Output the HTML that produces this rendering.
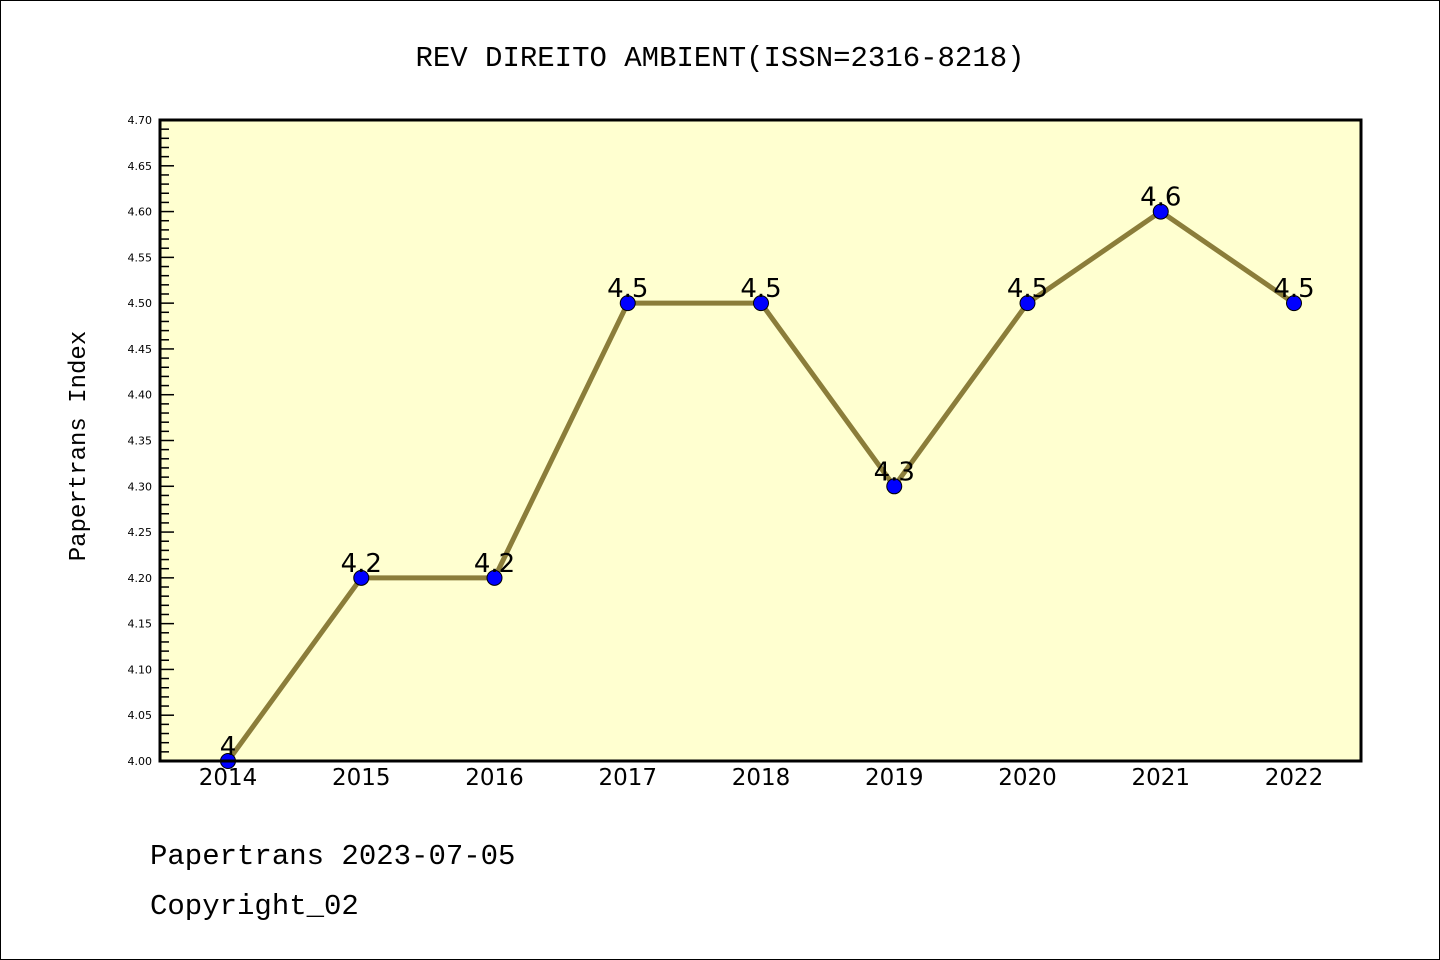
<!DOCTYPE html>
<html><head><meta charset="utf-8"><style>
body{margin:0;background:#fff}
svg{display:block;font-family:"Liberation Mono","DejaVu Sans Mono",monospace}
</style></head><body>
<svg width="1440" height="960">
<rect x="0.5" y="0.5" width="1439" height="959" fill="#fff" stroke="#000"/>
<text x="720" y="66" text-anchor="middle" font-size="29">REV DIREITO AMBIENT(ISSN=2316-8218)</text>
<rect x="160" y="120" width="1201" height="641" fill="#ffffd0"/>
<g id="yaxis"></g>
<g id="xaxis"></g>
<g id="series"></g>
<rect x="160" y="120" width="1201" height="641" fill="none" stroke="#000" stroke-width="3"/>
<text transform="translate(85,446) rotate(-90)" text-anchor="middle" font-size="24">Papertrans Index</text>
<text x="150" y="864" font-size="29">Papertrans 2023-07-05</text>
<text x="150" y="914" font-size="29">Copyright_02</text>
</svg>
<script>
const years=["2014","2015","2016","2017","2018","2019","2020","2021","2022"];
const values=[4.0,4.2,4.2,4.5,4.5,4.3,4.5,4.6,4.5];
const labels=["4","4.2","4.2","4.5","4.5","4.3","4.5","4.6","4.5"];
const yTicks=["4.00","4.05","4.10","4.15","4.20","4.25","4.30","4.35","4.40","4.45","4.50","4.55","4.60","4.65","4.70"];
const NS="http://www.w3.org/2000/svg";
const yMin=4.0,yMax=4.7,plotTop=120,plotBot=761;
const yS=v=>plotBot-(v-yMin)/(yMax-yMin)*(plotBot-plotTop);
const xS=i=>228+i*(1294-228)/(years.length-1);
function mk(t,a,p){const e=document.createElementNS(NS,t);for(const k in a)e.setAttribute(k,a[k]);p.appendChild(e);return e;}
const ya=document.getElementById('yaxis');
for(let k=0;k<=70;k++){const v=yMin+k*0.01;const major=k%5===0;
 const l=mk('line',{x1:160,x2:160+(major?14:9),y1:yS(v),y2:yS(v),stroke:'#000','stroke-width':1.5},ya);
 
 }
yTicks.forEach(t=>{const e=mk('text',{x:152,y:yS(parseFloat(t))+4,'text-anchor':'end','font-size':11,'font-family':'DejaVu Sans,sans-serif'},ya);e.textContent=t;
 
 });
const xa=document.getElementById('xaxis');
years.forEach((yr,i)=>{const e=mk('text',{x:xS(i),y:785,'text-anchor':'middle','font-size':23,'font-family':'DejaVu Sans,sans-serif'},xa);e.textContent=yr;
 
 });
const s=document.getElementById('series');
const pl=mk('polyline',{points:values.map((v,i)=>xS(i)+','+yS(v)).join(' '),fill:'none',stroke:'#8b7d3a','stroke-width':5},s);


values.forEach((v,i)=>{const c=mk('circle',{cx:xS(i),cy:yS(v),r:7.5,fill:'#0000ff',stroke:'#000','stroke-width':1},s);
 
 
 const t=mk('text',{x:xS(i),y:yS(v)-6,'text-anchor':'middle','font-size':26,'font-family':'DejaVu Sans,sans-serif'},s);t.textContent=labels[i];
 
 });
</script>
</body></html>
